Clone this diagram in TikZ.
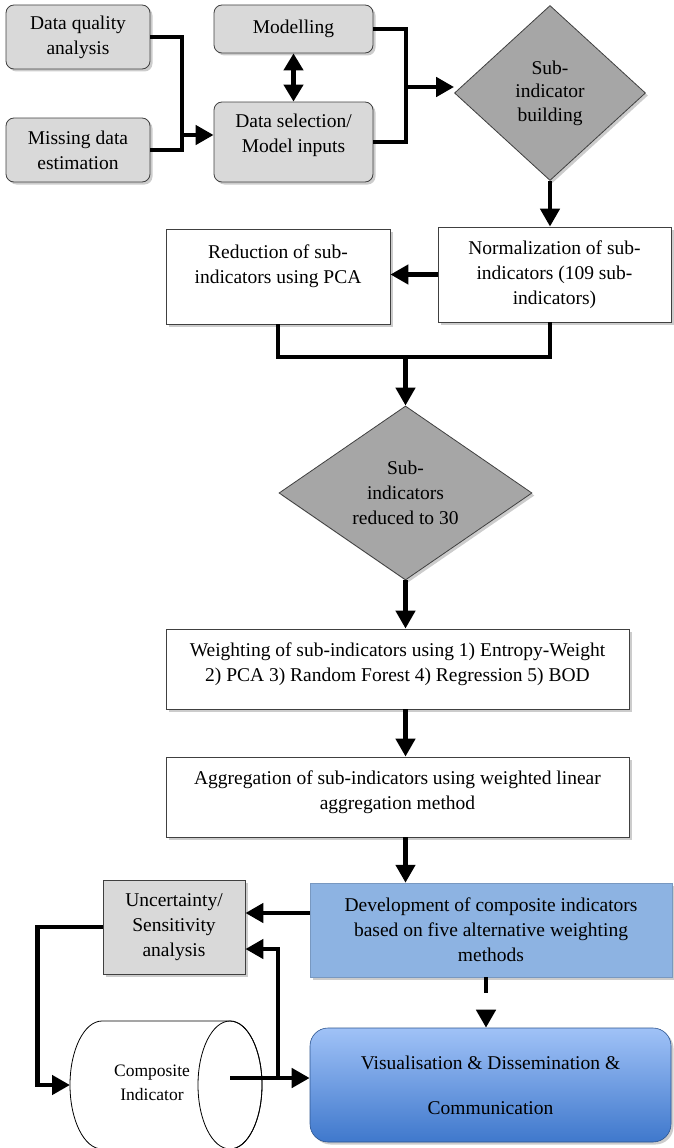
\documentclass[tikz,border=0pt]{standalone}
\usepackage{fontspec}
\setmainfont{Liberation Serif}
\usetikzlibrary{shapes.geometric,arrows.meta,shadows}
\definecolor{boxgray}{HTML}{D9D9D9}
\definecolor{diagray}{HTML}{A6A6A6}
\definecolor{devblue}{HTML}{8DB3E2}
\definecolor{vistop}{HTML}{A0C2F7}
\definecolor{visbot}{HTML}{3F78CC}
\begin{document}
\begin{tikzpicture}[x=1pt,y=-1pt,
  every node/.style={font=\fontsize{19.5}{25}\selectfont, align=center, inner sep=0pt},
  shad/.style={drop shadow={shadow xshift=2.5pt, shadow yshift=-2.5pt, opacity=0.2, fill=black}},
  gbox/.style={draw=black!75, line width=0.8pt, fill=boxgray, rounded corners=8pt, shad},
  wbox/.style={draw=black!75, line width=0.8pt, fill=white, shad},
  dia/.style={diamond, draw=black!75, line width=0.8pt, fill=diagray, shad},
  conn/.style={line width=4.5pt, -{Triangle[length=18pt,width=19pt]}},
  plainconn/.style={line width=4.5pt},
]
\useasboundingbox (0,0) rectangle (673,1148);

% nodes
\node[gbox, minimum width=144pt, minimum height=64pt] (dq) at (78,37) {Data quality\\analysis};
\node[gbox, minimum width=144pt, minimum height=64pt] (md) at (78,150) {Missing data\\estimation};
\node[gbox, minimum width=159pt, minimum height=48pt] (mod) at (293.5,29) {Modelling};
\node[gbox, minimum width=159pt, minimum height=80pt] (ds) at (293.5,142) {Data selection/\\Model inputs\\[-8pt]\mbox{}};
\node[dia, minimum width=191pt, minimum height=175pt, font=\fontsize{19.5}{23.5}\selectfont] (d1) at (550,93) {Sub-\\indicator\\building};

\node[wbox, minimum width=224pt, minimum height=95pt] (red) at (278,276.5) {Reduction of sub-\\indicators using PCA\\ \mbox{}};
\node[wbox, minimum width=233pt, minimum height=95pt] (norm) at (554.5,274.5) {Normalization of sub-\\indicators (109 sub-\\indicators)};

\node[dia, minimum width=253pt, minimum height=174pt] (d2) at (405.5,493) {Sub-\\indicators\\reduced to 30};

\node[wbox, minimum width=463pt, minimum height=80pt] (wt) at (397.5,669) {Weighting of sub-indicators using 1) Entropy-Weight\\2) PCA 3) Random Forest 4) Regression 5) BOD\\[-12pt] \mbox{}};
\node[wbox, minimum width=463pt, minimum height=80pt] (ag) at (397.5,797) {Aggregation of sub-indicators using weighted linear\\aggregation method\\[-12pt] \mbox{}};

\node[gbox, sharp corners, minimum width=142pt, minimum height=94pt] (unc) at (174,927) {Uncertainty/\\Sensitivity\\analysis};
\node[draw=devblue!85!black, line width=0.5pt, fill=devblue, shad, minimum width=362pt, minimum height=94pt] (dev) at (491,930) {Development of composite indicators\\based on five alternative weighting\\methods};
\node[draw=visbot!70!black, line width=0.6pt, top color=vistop, bottom color=visbot, rounded corners=18pt, shad, minimum width=361pt, minimum height=114pt] (vis) at (490.5,1085) {Visualisation \& Dissemination \&\\[20pt]Communication};

% cylinder
\filldraw[fill=white, draw=black, line width=0.8pt] (230,1021) -- (102,1021)
  arc[start angle=90, end angle=270, x radius=32pt, y radius=64pt] -- (230,1149)
  arc[start angle=-90, end angle=90, x radius=32pt, y radius=64pt] -- cycle;
\draw[line width=0.8pt] (230,1085) ellipse[x radius=32pt, y radius=64pt];
\node[font=\fontsize{17.5}{24}\selectfont] (cit) at (152,1083) {Composite\\Indicator};
\coordinate (cylL) at (70,1085);
\coordinate (cylC) at (230,1078);

% connectors
\coordinate (j1) at (182,135);
\draw[plainconn] (dq.east) -| (j1) |- (md.east);
\draw[conn] (j1) -- (j1 -| ds.west);
\draw[line width=4.5pt, {Triangle[length=17pt,width=19pt]}-{Triangle[length=17pt,width=19pt]}] (mod.south) -- (ds.north);
\coordinate (j2) at (406,87);
\draw[plainconn] (mod.east) -| (j2) |- (ds.east);
\draw[conn] (j2) -- (j2 -| d1.west);

\draw[conn] (d1.south) -- (d1.south |- norm.north);
\draw[conn] (norm.west) -- (norm.west -| red.east);
\coordinate (j3) at (405.5,357);
\draw[plainconn] (red.south) |- (j3) -| (d1.south |- norm.south);
\draw[conn] (j3) -- (d2.north);

\draw[conn] (d2.south) -- (d2.south |- wt.north);
\draw[conn] (d2.south |- wt.south) -- (d2.south |- ag.north);
\draw[conn] (d2.south |- ag.south) -- (d2.south |- dev.north);

\path (dev.west) ++(0,-17) coordinate (j4);
\draw[conn] (j4) -- (j4 -| unc.east);
\draw[conn] (unc.west) -- ++(-65,0) |- (cylL);
\draw[conn] (cylC) -- (cylC -| vis.west);
\coordinate (j6) at (278,1078);
\path (unc.east) ++(0,22) coordinate (j7);
\draw[conn] (j6) |- (j7);
\path (dev.south) ++(-5,0) coordinate (j8);
\draw[conn, dash pattern=on 16pt off 18pt] (j8) -- (j8 |- vis.north);
\end{tikzpicture}
\end{document}
